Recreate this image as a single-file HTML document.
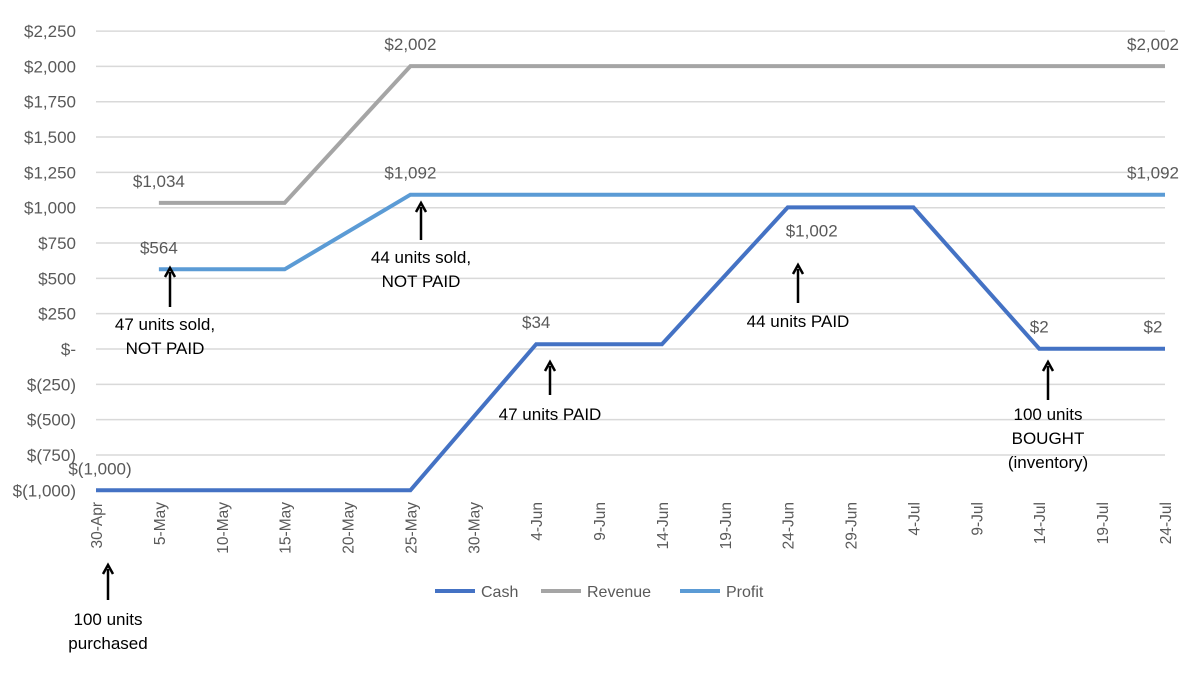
<!DOCTYPE html>
<html><head><meta charset="utf-8"><style>
body{margin:0;background:#fff;}
svg{display:block;font-family:"Liberation Sans",sans-serif;}
</style></head><body>
<svg id="chart" width="1200" height="675">
<g id="grid"></g><g id="series"></g><g id="labels"></g><g id="notes"></g>
<g>
 <line x1="435" y1="591" x2="475" y2="591" stroke="#4472c4" stroke-width="4"/>
 <text x="481" y="597" font-size="16" fill="#595959">Cash</text>
 <line x1="541" y1="591" x2="581" y2="591" stroke="#a5a5a5" stroke-width="4"/>
 <text x="587" y="597" font-size="16" fill="#595959">Revenue</text>
 <line x1="680" y1="591" x2="720" y2="591" stroke="#5b9bd5" stroke-width="4"/>
 <text x="726" y="597" font-size="16" fill="#595959">Profit</text>
</g>
</svg>
<script>
const yTicks=[-1000,-750,-500,-250,0,250,500,750,1000,1250,1500,1750,2000,2250];
const yTickLabels=["$(1,000)","$(750)","$(500)","$(250)","$-","$250","$500","$750","$1,000","$1,250","$1,500","$1,750","$2,000","$2,250"];
const xTickDays=[0,5,10,15,20,25,30,35,40,45,50,55,60,65,70,75,80,85];
const xTickLabels=["30-Apr","5-May","10-May","15-May","20-May","25-May","30-May","4-Jun","9-Jun","14-Jun","19-Jun","24-Jun","29-Jun","4-Jul","9-Jul","14-Jul","19-Jul","24-Jul"];
const cashDays=[0,25,35,45,55,65,75,85];
const cashValues=[-1000,-1000,34,34,1002,1002,2,2];
const revenueDays=[5,15,25,85];
const revenueValues=[1034,1034,2002,2002];
const profitDays=[5,15,25,85];
const profitValues=[564,564,1092,1092];
const NS="http://www.w3.org/2000/svg";
const X0=96,X1=1165,Y0=349,YK=0.1413;
function xs(d){return X0+(X1-X0)*d/85;}
function ys(v){return Y0-v*YK;}
function mk(tag,attrs,parent,text){const e=document.createElementNS(NS,tag);for(const k in attrs)e.setAttribute(k,attrs[k]);if(text!==undefined)e.textContent=text;document.getElementById(parent).appendChild(e);return e;}
yTicks.forEach((v,i)=>{
 if(v!==-1000){const g=mk('line',{x1:X0,x2:X1,y1:ys(v),y2:ys(v),stroke:'#d9d9d9','stroke-width':1.5},'grid');
 
 }
 const t=mk('text',{x:76,y:ys(v)+6,'text-anchor':'end','font-size':17,fill:'#595959'},'labels',yTickLabels[i]);
 
 
});
xTickDays.forEach((d,i)=>{
 const x=xs(d)+6;
 const t=mk('text',{x:0,y:0,'text-anchor':'end','font-size':15.5,fill:'#595959',transform:`translate(${x},502) rotate(-90)`},'labels',xTickLabels[i]);
 
 
});
function series(days,vals,color,name){
 const p=mk('polyline',{points:days.map((d,i)=>xs(d)+','+ys(vals[i])).join(' '),fill:'none',stroke:color,'stroke-width':4,'stroke-linejoin':'miter'},'series');
 
 
}
series(revenueDays,revenueValues,'#a5a5a5','revenue-line');
series(profitDays,profitValues,'#5b9bd5','profit-line');
series(cashDays,cashValues,'#4472c4','cash-line');
function fmt(v){return v<0?'$('+Math.abs(v).toLocaleString('en-US')+')':'$'+v.toLocaleString('en-US');}
const dl=[[cashDays,cashValues,[0,2,4,6,7]],[revenueDays,revenueValues,[0,2,3]],[profitDays,profitValues,[0,2,3]]];
dl.forEach(([ds,vs,idx])=>idx.forEach(i=>{
 let x=xs(ds[i]),y=ys(vs[i])-16,anchor='middle';
 if(ds[i]===85)x-=12;
 if(ds===cashDays&&i===4){y=ys(vs[i])+29;x+=24;}
 if(ds===cashDays&&i===0)x+=4;
 const t=mk('text',{x:x,y:y,'text-anchor':anchor,'font-size':17,fill:'#595959'},'labels',fmt(vs[i]));
 
 
}));
const notes=[[108,600,565,["100 units","purchased"],108,625],[170,307,268,["47 units sold,","NOT PAID"],165,330],[421,240,203,["44 units sold,","NOT PAID"],421,263],[550,395,362,["47 units PAID"],550,420],[798,303,265,["44 units PAID"],798,327],[1048,400,362,["100 units","BOUGHT","(inventory)"],1048,420]];
notes.forEach(([x,y1,y2,lines,tx,ty])=>{
 const a=mk('line',{x1:x,y1:y1,x2:x,y2:y2+4,stroke:'#000','stroke-width':2.5},'notes');
 
 
 const h=mk('path',{d:`M${x-5},${y2+9} L${x},${y2} L${x+5},${y2+9}`,fill:'none',stroke:'#000','stroke-width':2.5},'notes');
 
 
 lines.forEach((l,j)=>{
  const t=mk('text',{x:tx,y:ty+j*24,'text-anchor':'middle','font-size':17,fill:'#000'},'notes',l);
  
  
 });
});
</script>
</body></html>
